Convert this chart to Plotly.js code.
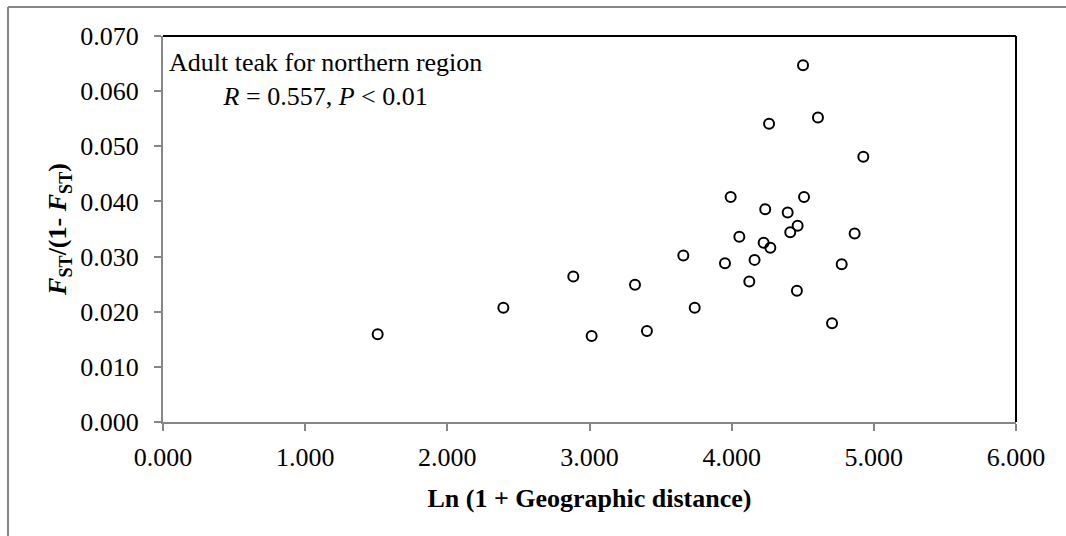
<!DOCTYPE html>
<html>
<head>
<meta charset="utf-8">
<script src="https://cdn.plot.ly/plotly-3.0.1.min.js"></script>
<style>
  html, body { margin: 0; padding: 0; background: #fff; }
  #chart { width: 1066px; height: 536px; }
</style>
</head>
<body>
<div id="chart"></div>
<script>
// Ln(1 + geographic distance) between population pairs
const lnDistance = [
  1.510, 2.394, 2.886, 3.015, 3.320, 3.404, 3.660, 3.740, 3.953, 3.993,
  4.054, 4.124, 4.161, 4.225, 4.236, 4.263, 4.272, 4.394, 4.412, 4.459,
  4.464, 4.502, 4.509, 4.607, 4.706, 4.774, 4.865, 4.926
];
// Pairwise FST/(1-FST)
const fstRatio = [
  0.0159, 0.0207, 0.0264, 0.0156, 0.0249, 0.0165, 0.0302, 0.0207, 0.0288, 0.0408,
  0.0336, 0.0255, 0.0294, 0.0325, 0.0386, 0.0541, 0.0316, 0.0380, 0.0344, 0.0238,
  0.0356, 0.0647, 0.0408, 0.0552, 0.0179, 0.0286, 0.0342, 0.0481
];
const xTickValues = [0, 1, 2, 3, 4, 5, 6];
const yTickValues = [0, 0.01, 0.02, 0.03, 0.04, 0.05, 0.06, 0.07];

const serif = "'Liberation Serif', 'Times New Roman', serif";
const axisGrey = '#868686';

const trace = {
  x: lnDistance,
  y: fstRatio,
  type: 'scatter',
  mode: 'markers',
  marker: {
    symbol: 'circle-open',
    size: 10,
    color: '#000',
    line: { color: '#000', width: 2 }
  },
  hoverinfo: 'x+y'
};

const layout = {
  width: 1066,
  height: 536,
  margin: { l: 163, r: 50, t: 36, b: 114, pad: 0 },
  paper_bgcolor: '#fff',
  plot_bgcolor: '#fff',
  showlegend: false,
  font: { family: serif, size: 26, color: '#000' },
  xaxis: {
    range: [0, 6],
    tickvals: xTickValues,
    tickformat: '.3f',
    ticks: 'outside',
    ticklen: 7,
    tickwidth: 2,
    tickcolor: axisGrey,
    showline: true,
    linecolor: axisGrey,
    linewidth: 2,
    showgrid: false,
    zeroline: false,
    ticklabelstandoff: 4,
    tickfont: { family: serif, size: 26, color: '#000' },
    title: {
      text: 'Ln (1 + Geographic distance)',
      font: { family: serif, size: 26, color: '#000', weight: 'bold' },
      standoff: 18
    }
  },
  yaxis: {
    range: [0, 0.07],
    tickvals: yTickValues,
    tickformat: '.3f',
    ticks: 'outside',
    ticklen: 7,
    tickwidth: 2,
    tickcolor: axisGrey,
    showline: true,
    linecolor: axisGrey,
    linewidth: 2,
    showgrid: false,
    zeroline: false,
    ticklabelstandoff: 10,
    tickfont: { family: serif, size: 26, color: '#000' },
    title: {
      text: '<i>F</i><sub>ST</sub>/(1- <i>F</i><sub>ST</sub>)',
      font: { family: serif, size: 26, color: '#000', weight: 'bold' },
      standoff: 6
    }
  },
  shapes: [
    // black top and right borders of the plot area
    { type: 'line', xref: 'paper', yref: 'paper', x0: 0, x1: 1, y0: 1, y1: 1,
      line: { color: '#000', width: 2 }, layer: 'above' },
    { type: 'line', xref: 'paper', yref: 'paper', x0: 1, x1: 1, y0: 0, y1: 1,
      line: { color: '#000', width: 2 }, layer: 'above' },
    // thin grey chart frame
    { type: 'line', xref: 'paper', yref: 'paper', x0: -0.1817, x1: 1.06, y0: 1.0751, y1: 1.0751,
      line: { color: axisGrey, width: 2 } },
    { type: 'line', xref: 'paper', yref: 'paper', x0: -0.1817, x1: -0.1817, y0: -0.31, y1: 1.0751,
      line: { color: axisGrey, width: 2 } }
  ],
  annotations: [
    {
      xref: 'paper', yref: 'paper',
      x: 0.19, y: 0.975,
      xanchor: 'center', yanchor: 'top',
      align: 'center',
      showarrow: false,
      text: 'Adult teak for northern region<br><i>R</i> = 0.557, <i>P</i> &lt; 0.01',
      font: { family: serif, size: 26, color: '#000' }
    }
  ]
};

Plotly.newPlot('chart', [trace], layout, { displayModeBar: false, staticPlot: true });
</script>
</body>
</html>
